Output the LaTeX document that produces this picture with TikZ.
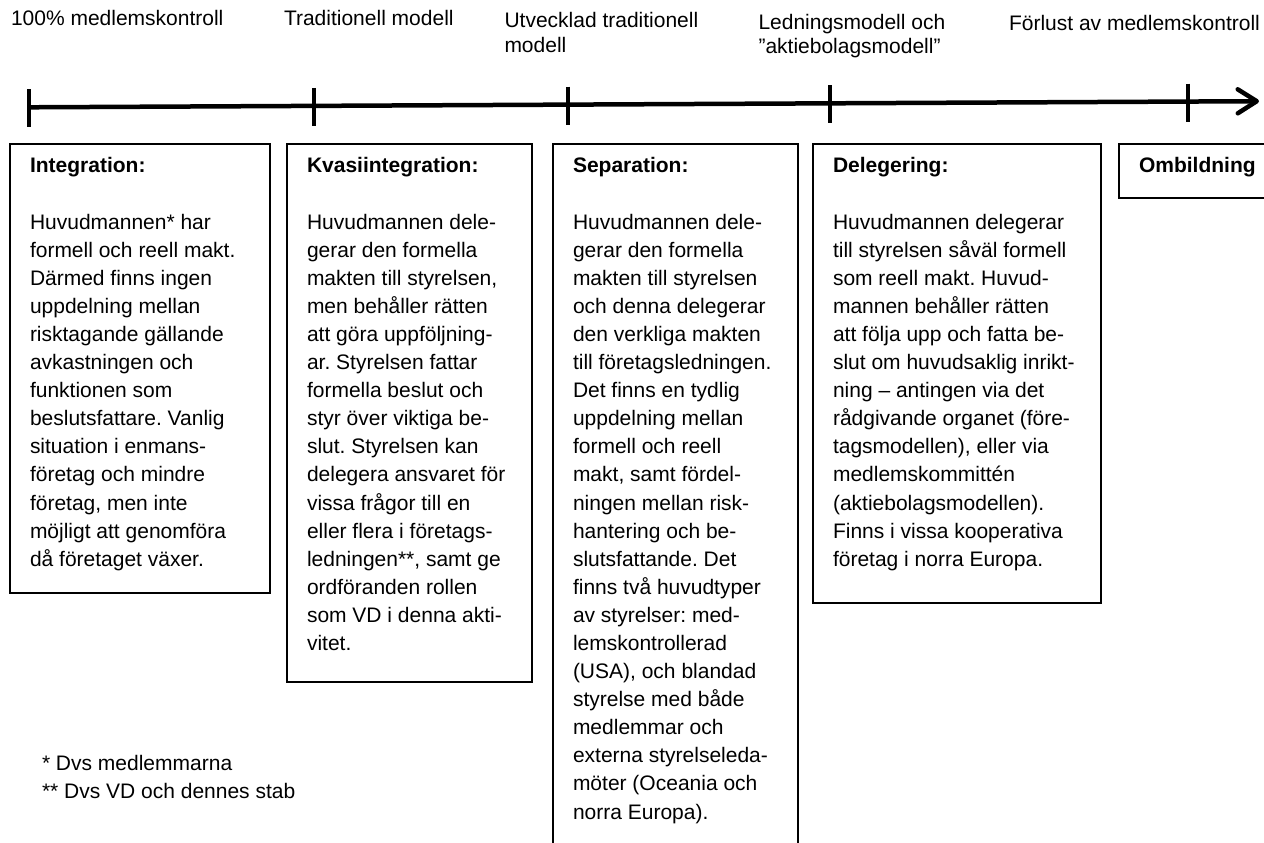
\documentclass[tikz,border=0pt]{standalone}
\usepackage{fontspec}
\setmainfont{Liberation Sans}
\usetikzlibrary{arrows.meta}
\frenchspacing

% type sizes: box texts and the labels above the time line
\newcommand{\boxfont}{\fontsize{21}{28.1}\selectfont}
\newcommand{\topfont}{\fontsize{21}{24.2}\selectfont}
\newcommand{\lines}[1]{\begin{tabular}[t]{@{}l@{}}#1\end{tabular}}

\begin{document}
\begin{tikzpicture}[x=1pt,y=1pt,
  frame/.style={draw=black, line width=2pt, inner sep=0pt, outer sep=0pt, anchor=north west},
  txt/.style={anchor=base west, inner sep=0pt, outer sep=0pt, font=\boxfont},
  headtxt/.style={txt, font=\boxfont\bfseries},
  toplabel/.style={anchor=base west, inner sep=0pt, outer sep=0pt, font=\topfont},
  axis/.style={line width=4.5pt},
  tickmark/.style={line width=4pt},
]
\useasboundingbox (0,0) rectangle (1264,-843);
\fill[white] (0,0) rectangle (1264,-843);
\clip (0,0) rectangle (1264,-843);

% ---- time line with its five marks
\coordinate (start) at (29,-107.3);
\coordinate (m1) at (313.5,-105.9);
\coordinate (m2) at (568,-104.6);
\coordinate (m3) at (829.5,-103.3);
\coordinate (m4) at (1187.7,-101.6);
\coordinate (end) at (1259,-101.2);
\draw[axis, -{Straight Barb[length=19pt, width=24pt, round]}] (start) -- (end);
\foreach \m in {start,m1,m2,m3,m4}
  \draw[tickmark] ([yshift=18pt]\m) -- ([yshift=-20pt]\m);

% ---- stage names above the line
\node[toplabel] (lab0) at (11,-26) {100\% medlemskontroll};
\node[toplabel] (lab1) at (284,-26) {Traditionell modell};
\node[toplabel] (lab2) at (504.5,-28) {\lines{Utvecklad traditionell\\modell}};
\node[toplabel] (lab3) at (758.5,-29.5) {\lines{Ledningsmodell och\\”aktiebolagsmodell”}};
\node[toplabel] (lab4) at (1009,-31) {Förlust av medlemskontroll};

% ---- description boxes
\node[frame, minimum width=259.5pt, minimum height=449pt] (intbox) at (10,-144) {};
\node[frame, minimum width=245pt, minimum height=538pt] (kvabox) at (287,-144) {};
\node[frame, minimum width=245pt, minimum height=740pt] (sepbox) at (553,-144) {};
\node[frame, minimum width=288pt, minimum height=459pt] (delbox) at (813,-144) {};
\node[frame, minimum width=180pt, minimum height=54pt] (ombbox) at (1119,-144) {};

% headings
\node[headtxt] (inthead) at ([xshift=20pt,yshift=-28pt]intbox.north west) {Integration:};
\node[headtxt] (kvahead) at ([xshift=20pt,yshift=-28pt]kvabox.north west) {Kvasiintegration:};
\node[headtxt] (sephead) at ([xshift=20pt,yshift=-28pt]sepbox.north west) {Separation:};
\node[headtxt] (delhead) at ([xshift=20pt,yshift=-28pt]delbox.north west) {Delegering:};
\node[headtxt] (ombhead) at ([xshift=20pt,yshift=-28pt]ombbox.north west) {Ombildning};

% body texts
\node[txt] (intbody) at ([xshift=20pt,yshift=-85pt]intbox.north west) {\lines{%
Huvudmannen* har\\
formell och reell makt.\\
Därmed finns ingen\\
uppdelning mellan\\
risktagande gällande\\
avkastningen och\\
funktionen som\\
beslutsfattare. Vanlig\\
situation i enmans-\\
företag och mindre\\
företag, men inte\\
möjligt att genomföra\\
då företaget växer.}};

\node[txt] (kvabody) at ([xshift=20pt,yshift=-85pt]kvabox.north west) {\lines{%
Huvudmannen dele-\\
gerar den formella\\
makten till styrelsen,\\
men behåller rätten\\
att göra uppföljning-\\
ar. Styrelsen fattar\\
formella beslut och\\
styr över viktiga be-\\
slut. Styrelsen kan\\
delegera ansvaret för\\
vissa frågor till en\\
eller flera i företags-\\
ledningen**, samt ge\\
ordföranden rollen\\
som VD i denna akti-\\
vitet.}};

\node[txt] (sepbody) at ([xshift=20pt,yshift=-85pt]sepbox.north west) {\lines{%
Huvudmannen dele-\\
gerar den formella\\
makten till styrelsen\\
och denna delegerar\\
den verkliga makten\\
till företagsledningen.\\
Det finns en tydlig\\
uppdelning mellan\\
formell och reell\\
makt, samt fördel-\\
ningen mellan risk-\\
hantering och be-\\
slutsfattande. Det\\
finns två huvudtyper\\
av styrelser: med-\\
lemskontrollerad\\
(USA), och blandad\\
styrelse med både\\
medlemmar och\\
externa styrelseleda-\\
möter (Oceania och\\
norra Europa).}};

\node[txt] (delbody) at ([xshift=20pt,yshift=-85pt]delbox.north west) {\lines{%
Huvudmannen delegerar\\
till styrelsen såväl formell\\
som reell makt. Huvud-\\
mannen behåller rätten\\
att följa upp och fatta be-\\
slut om huvudsaklig inrikt-\\
ning – antingen via det\\
rådgivande organet (före-\\
tagsmodellen), eller via\\
medlemskommittén\\
(aktiebolagsmodellen).\\
Finns i vissa kooperativa\\
företag i norra Europa.}};

% ---- footnotes
\node[txt] (notes) at (42,-770) {\lines{%
* Dvs medlemmarna\\
\relax** Dvs VD och dennes stab}};
\end{tikzpicture}
\end{document}
